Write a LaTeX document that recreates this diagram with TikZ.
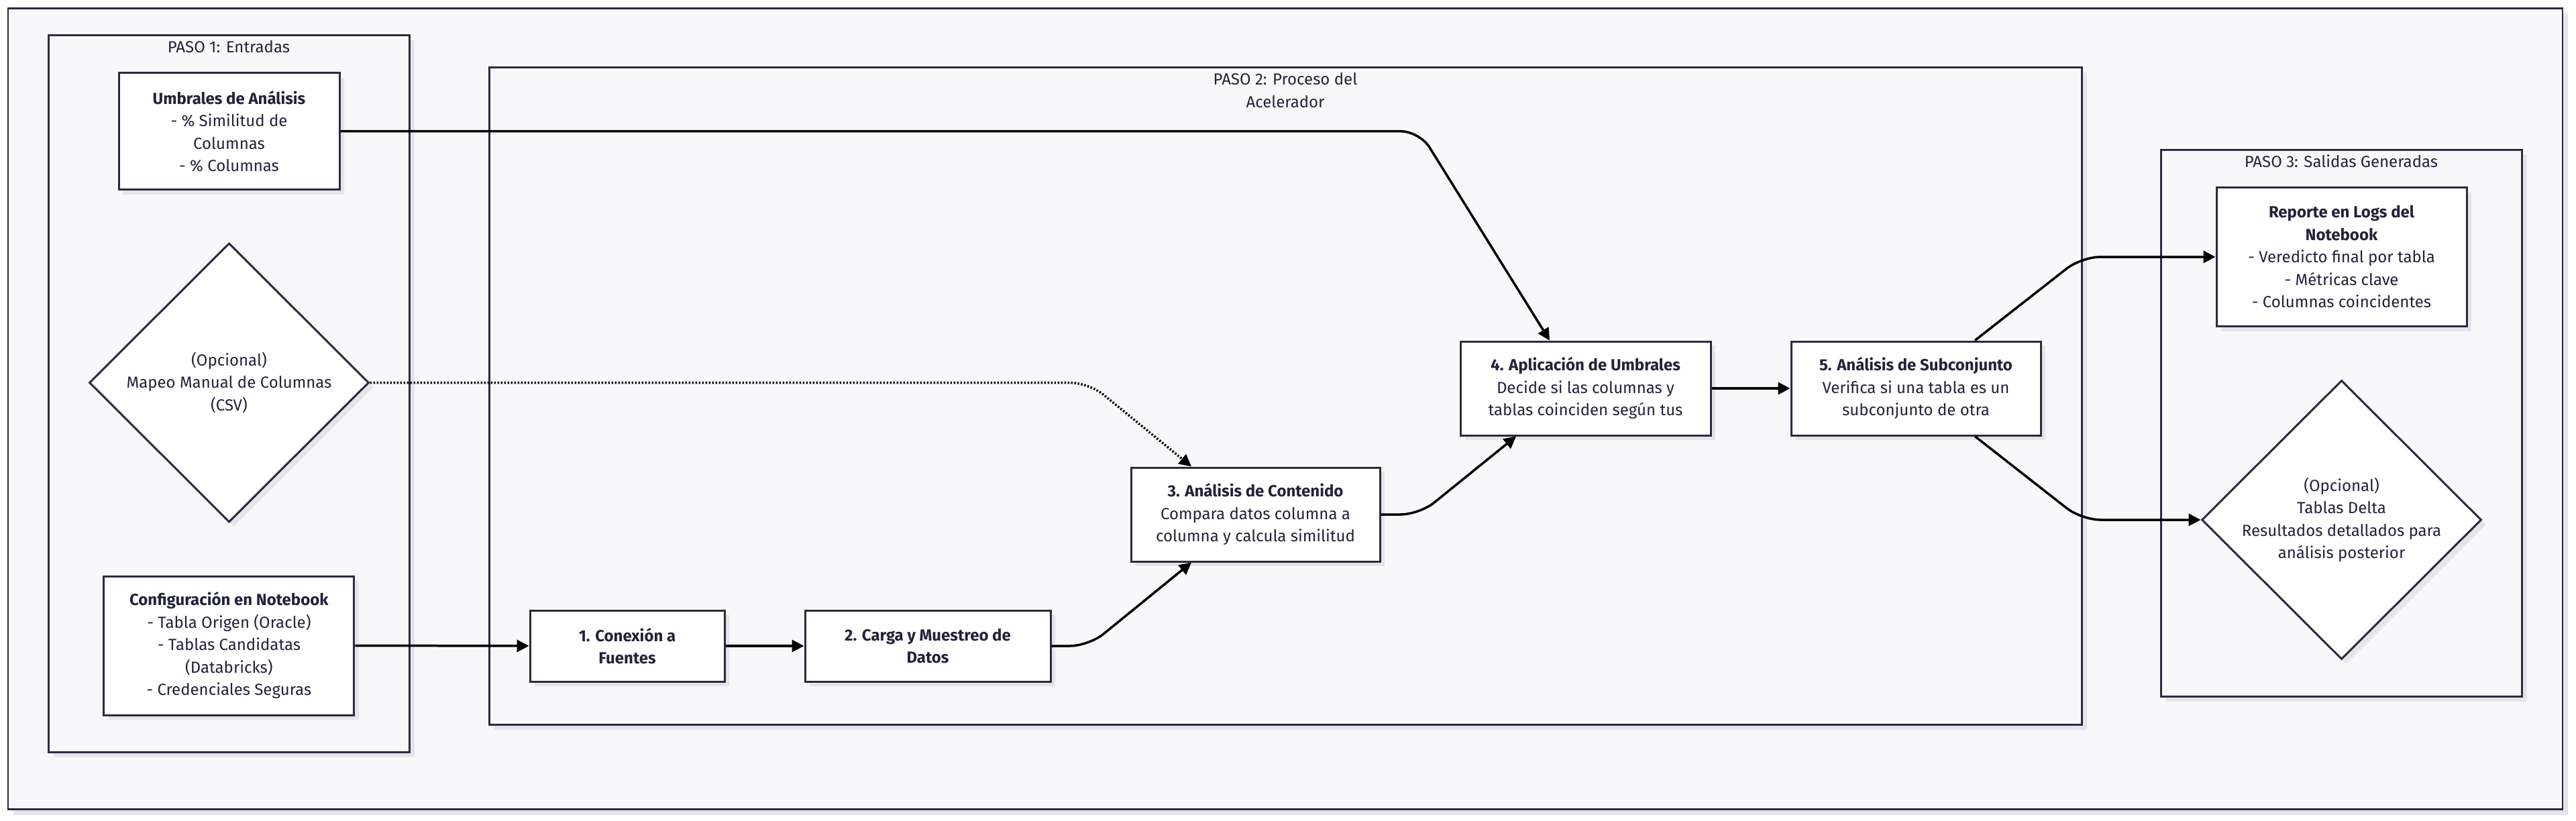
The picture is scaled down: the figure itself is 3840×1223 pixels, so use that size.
\documentclass[tikz,border=0pt]{standalone}
\usepackage{fontspec}
\setmainfont{Fira Sans}
\usetikzlibrary{arrows.meta,shapes.geometric,shadows}
\definecolor{bgc}{HTML}{F8F8FA}
\definecolor{linec}{HTML}{2B2B40}
\definecolor{txtc}{HTML}{22223A}
\definecolor{shc}{HTML}{E4E4EA}
\tikzset{
  txt/.style={font=\fontsize{24}{33.5}\selectfont, text=txtc, align=center},
  boxn/.style={txt, draw=linec, line width=3pt, fill=white, rectangle, inner sep=0pt,
     drop shadow={shadow xshift=7pt, shadow yshift=-7pt, fill=shc, opacity=1}},
  dia/.style={shape=diamond, draw=linec, line width=3pt, fill=white, inner sep=0pt, aspect=1,
     minimum width=417pt, minimum height=416pt,
     drop shadow={shadow xshift=7pt, shadow yshift=-7pt, fill=shc, opacity=1}},
  grp/.style={draw=linec, line width=3pt, fill=bgc},
  grpsh/.style={fill=shc},
  ttl/.style={txt},
  arr/.style={draw=black, line width=3.5pt, -{Triangle[length=18pt,width=18pt]}},
  dotarr/.style={arr, dash pattern=on 2.5pt off 2.5pt},
}
\begin{document}
\begin{tikzpicture}[x=1pt,y=-1pt]
\useasboundingbox (0,0) rectangle (3840,1223);
\fill[white] (0,0) rectangle (3840,1223);
% outer frame
\fill[grpsh] (20,20) rectangle (3828,1215);
\draw[grp, line width=2.5pt] (12,12.3) rectangle (3820,1206.7);
% groups
\fill[grpsh] (80,60) rectangle (618,1129);
\draw[grp] (72,52.7) rectangle (610,1121.7);
\node[ttl] (t1) at (341,70) {PASO 1: Entradas};
\fill[grpsh] (737,108) rectangle (3111,1088);
\draw[grp] (729.5,100.7) rectangle (3103,1080.7);
\node[ttl] (t2) at (1916,134.7) {PASO 2: Proceso del\\Acelerador};
\fill[grpsh] (3229,231) rectangle (3767,1046);
\draw[grp] (3221,223.3) rectangle (3759.5,1038.3);
\node[ttl] (t3) at (3490,240.7) {PASO 3: Salidas Generadas};
% nodes
\node[boxn, minimum width=329pt, minimum height=174pt] (umb) at (341.5,195.7)
  {\textbf{Umbrales de Análisis}\\- \% Similitud de\\Columnas\\- \% Columnas};
\node[dia, label={[txt]center:{(Opcional)\\Mapeo Manual de Columnas\\(CSV)}}] (map) at (341.5,570.5) {};
\node[boxn, minimum width=373pt, minimum height=207pt] (cfg) at (341.4,962.5)
  {\textbf{Configuración en Notebook}\\- Tabla Origen (Oracle)\\- Tablas Candidatas\\(Databricks)\\- Credenciales Seguras};
\node[boxn, minimum width=290pt, minimum height=106pt] (c1) at (935,963)
  {\textbf{1. Conexión a}\\\textbf{Fuentes}};
\node[boxn, minimum width=366pt, minimum height=106pt] (c2) at (1383,963)
  {\textbf{2. Carga y Muestreo de}\\\textbf{Datos}};
\node[boxn, minimum width=371pt, minimum height=140pt] (c3) at (1871.5,767)
  {\textbf{3. Análisis de Contenido}\\Compara datos columna a\\columna y calcula similitud};
\node[boxn, minimum width=373pt, minimum height=140pt] (c4) at (2363.5,579)
  {\textbf{4. Aplicación de Umbrales}\\Decide si las columnas y\\tablas coinciden según tus};
\node[boxn, minimum width=372pt, minimum height=140pt] (c5) at (2856,579)
  {\textbf{5. Análisis de Subconjunto}\\Verifica si una tabla es un\\subconjunto de otra};
\node[boxn, minimum width=373pt, minimum height=207pt] (rep) at (3490.5,383)
  {\textbf{Reporte en Logs del}\\\textbf{Notebook}\\- Veredicto final por tabla\\- Métricas clave\\- Columnas coincidentes};
\node[dia, label={[txt]center:{(Opcional)\\Tablas Delta\\Resultados detallados para\\análisis posterior}}] (delta) at (3490.5,775) {};
% connectors
\draw[arr, rounded corners=28pt] (umb.east) -- (2116,195.7) -- ([xshift=-53.5pt]c4.north);
\draw[dotarr, rounded corners=28pt] (map.east) -- (1623,570.5) -- ([xshift=-95.5pt]c3.north);
\draw[arr] (cfg.east) -- (c1.west);
\draw[arr] (c1.east) -- (c2.west);
\draw[arr, rounded corners=28pt] (c2.east) -- (1623,963) -- ([xshift=-95.5pt]c3.south);
\draw[arr, rounded corners=28pt] (c3.east) -- (2116,767) -- ([xshift=-103.5pt]c4.south);
\draw[arr] (c4.east) -- (c5.west);
\draw[arr, rounded corners=28pt] ([xshift=88pt]c5.north) -- (3103,383) -- (rep.west);
\draw[arr, rounded corners=28pt] ([xshift=88pt]c5.south) -- (3103,775) -- (delta.west);
\end{tikzpicture}
\end{document}
